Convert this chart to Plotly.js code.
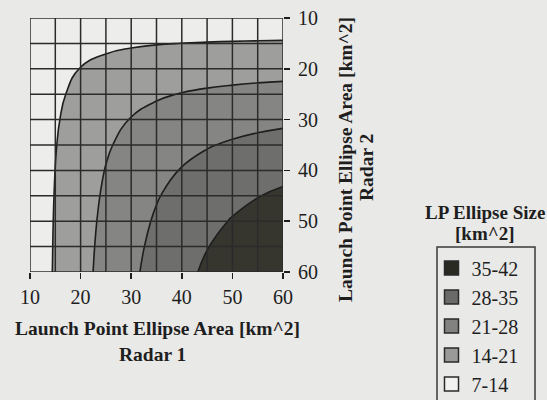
<!DOCTYPE html>
<html>
<head>
<meta charset="utf-8">
<script src="https://cdn.plot.ly/plotly-3.0.1.min.js"></script>
<style>
  html, body { margin: 0; padding: 0; background: #e9e9e7; }
  #chart { width: 547px; height: 400px; }
</style>
</head>
<body>
<div id="chart"></div>
<script>
// Launch point ellipse areas for each radar [km^2]
const radar1Area = [10, 15, 20, 25, 30, 35, 40, 45, 50, 55, 60];
const radar2Area = [10, 15, 20, 25, 30, 35, 40, 45, 50, 55, 60];

// Combined LP ellipse size [km^2]; rows follow radar2Area, columns radar1Area
const lpEllipseSize = [
  [7.07,  8.32,  8.94,  9.28,  9.49,  9.62,  9.70,  9.76,  9.81,  9.84,  9.86],
  [8.32, 10.61, 12.00, 12.86, 13.42, 13.79, 14.04, 14.23, 14.37, 14.47, 14.55],
  [8.94, 12.00, 14.14, 15.62, 16.64, 17.36, 17.89, 18.28, 18.57, 18.80, 18.97],
  [9.28, 12.86, 15.62, 17.68, 19.21, 20.34, 21.20, 21.85, 22.36, 22.76, 23.08],
  [9.49, 13.42, 16.64, 19.21, 21.21, 22.78, 24.00, 24.96, 25.72, 26.34, 26.83],
  [9.62, 13.79, 17.36, 20.34, 22.78, 24.75, 26.34, 27.63, 28.67, 29.53, 30.23],
  [9.70, 14.04, 17.89, 21.20, 24.00, 26.34, 28.28, 29.90, 31.24, 32.35, 33.28],
  [9.76, 14.23, 18.28, 21.85, 24.96, 27.63, 29.90, 31.82, 33.45, 34.83, 36.00],
  [9.81, 14.37, 18.57, 22.36, 25.72, 28.67, 31.24, 33.45, 35.36, 37.00, 38.41],
  [9.84, 14.47, 18.80, 22.76, 26.34, 29.53, 32.35, 34.83, 37.00, 38.89, 40.54],
  [9.86, 14.55, 18.97, 23.08, 26.83, 30.23, 33.28, 36.00, 38.41, 40.54, 42.43]
];

// Size classes (lowest to highest) and their shades
const classEdges = [7, 14, 21, 28, 35, 42];
const classLabels = ['7-14', '14-21', '21-28', '28-35', '35-42'];
const classFills = ['#ededeb', '#9e9e9c', '#858583', '#6e6e6c', '#36362f'];
const classSwatches = ['#f2f2f0', '#9a9a98', '#828280', '#6a6a68', '#2a2a22'];

const axisTicks = [10, 20, 30, 40, 50, 60];

const W = 547, H = 400;
const margin = { l: 30, r: 264, t: 18, b: 128, autoexpand: false };
const plotW = W - margin.l - margin.r;
const plotH = H - margin.t - margin.b;
const px2x = px => (px - margin.l) / plotW;
const py2y = py => (H - margin.b - py) / plotH;

const serif = 'Liberation Serif, Times New Roman, serif';
const ink = '#1e1e1e';

// band colours: one evenly spaced stop per class
const colorscale = classFills.map((c, i) => [i / (classFills.length - 1), c]);
const step = classEdges[1] - classEdges[0];

const traces = [{
  type: 'contour',
  x: radar1Area,
  y: radar2Area,
  z: lpEllipseSize,
  zmin: classEdges[0],
  zmax: classEdges[classEdges.length - 1],
  colorscale: colorscale,
  showscale: false,
  hoverinfo: 'skip',
  contours: {
    start: classEdges[1],
    end: classEdges[classEdges.length - 2],
    size: step,
    coloring: 'fill',
    showlines: true
  },
  line: { color: ink, width: 1.6, smoothing: 1.3 },
  showlegend: false
}];

// legend swatches, highest class first
for (let i = classLabels.length - 1; i >= 0; i--) {
  traces.push({
    type: 'scatter',
    x: [null], y: [null],
    mode: 'markers',
    name: classLabels[i],
    legendgroup: 'g' + i,
    marker: { symbol: 'square', size: 14, color: classSwatches[i],
              line: { color: '#2a2a2a', width: 1.5 } },
    showlegend: true,
    hoverinfo: 'skip'
  });
}

// grid every 5 km^2, drawn over the filled bands
const shapes = [];
radar1Area.forEach(v => shapes.push({
  type: 'line', xref: 'x', yref: 'y', layer: 'above',
  x0: v, x1: v, y0: radar2Area[0], y1: radar2Area[radar2Area.length - 1],
  line: { color: '#2b2b2b', width: 1.5 }
}));
radar2Area.forEach(v => shapes.push({
  type: 'line', xref: 'x', yref: 'y', layer: 'above',
  y0: v, y1: v, x0: radar1Area[0], x1: radar1Area[radar1Area.length - 1],
  line: { color: '#2b2b2b', width: 1.5 }
}));

// frame around the legend entries (runs off the bottom of the page)
shapes.push({
  type: 'rect', xref: 'paper', yref: 'paper', layer: 'above',
  x0: px2x(437), x1: px2x(535), y0: py2y(247), y1: py2y(412),
  line: { color: '#3a3a3a', width: 1.5 }, fillcolor: 'rgba(0,0,0,0)'
});

const titleFont = { family: serif, size: 19.5, color: ink };
const bold = s => '<b>' + s + '</b>';

const annotations = [
  { text: bold('Launch Point Ellipse Area [km^2]'), x: px2x(157), y: py2y(328) },
  { text: bold('Radar 1'), x: px2x(152), y: py2y(355) },
  { text: bold('Launch Point Ellipse Area [km^2]'), x: px2x(345), y: py2y(160), textangle: -90 },
  { text: bold('Radar 2'), x: px2x(366), y: py2y(168), textangle: -90 },
  { text: bold('LP Ellipse Size'), x: px2x(485), y: py2y(212),
    font: { family: serif, size: 19, color: ink } },
  { text: bold('[km^2]'), x: px2x(485), y: py2y(233),
    font: { family: serif, size: 19, color: ink } }
].map(a => Object.assign({
  xref: 'paper', yref: 'paper', xanchor: 'center', yanchor: 'middle',
  showarrow: false, font: titleFont
}, a));

const layout = {
  width: W, height: H,
  margin: margin,
  paper_bgcolor: '#e9e9e7',
  plot_bgcolor: '#ededeb',
  font: { family: serif, size: 20, color: ink },
  xaxis: {
    range: [radar1Area[0], radar1Area[radar1Area.length - 1]],
    tickvals: axisTicks,
    ticktext: axisTicks.map(String),
    ticks: 'outside', ticklen: 6, tickwidth: 1.5, tickcolor: ink,
    ticklabelstandoff: 1,
    automargin: false,
    showgrid: false, zeroline: false, showline: false,
    tickfont: { family: serif, size: 20, color: ink }
  },
  yaxis: {
    range: [radar2Area[radar2Area.length - 1], radar2Area[0]],
    side: 'right',
    tickvals: axisTicks,
    ticktext: axisTicks.map(String),
    ticks: 'outside', ticklen: 6, tickwidth: 1.5, tickcolor: ink,
    ticklabelstandoff: 4,
    automargin: false,
    showgrid: false, zeroline: false, showline: false,
    tickfont: { family: serif, size: 20, color: ink }
  },
  showlegend: true,
  legend: {
    x: px2x(431.5), y: py2y(248.5), xanchor: 'left', yanchor: 'top',
    bgcolor: 'rgba(0,0,0,0)',
    borderwidth: 0,
    font: { family: serif, size: 20, color: ink },
    tracegroupgap: 1,
    traceorder: 'normal',
    maxheight: 1000
  },
  shapes: shapes,
  annotations: annotations
};

Plotly.newPlot('chart', traces, layout, { displayModeBar: false, staticPlot: true });
</script>
</body>
</html>
